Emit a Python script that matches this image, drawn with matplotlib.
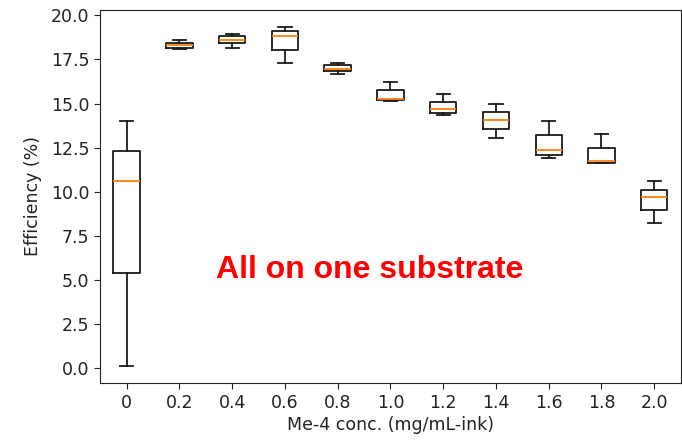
import matplotlib
matplotlib.use("Agg")
import matplotlib.pyplot as plt

# concentrations (tick labels) and box statistics
conc = ["0", "0.2", "0.4", "0.6", "0.8", "1.0", "1.2", "1.4", "1.6", "1.8", "2.0"]
whis_low = [0.11, 18.08, 18.17, 17.32, 16.70, 15.15, 14.33, 13.03, 11.88, 11.62, 8.23]
q1 = [5.36, 18.15, 18.45, 18.02, 16.83, 15.18, 14.49, 13.56, 12.10, 11.65, 8.95]
median = [10.59, 18.30, 18.62, 18.81, 16.98, 15.28, 14.67, 14.09, 12.35, 11.75, 9.67]
q3 = [12.31, 18.43, 18.83, 19.09, 17.17, 15.79, 15.09, 14.52, 13.20, 12.50, 10.12]
whis_high = [14.01, 18.58, 18.92, 19.34, 17.30, 16.22, 15.52, 15.00, 14.01, 13.26, 10.59]

stats = []
for i in range(len(conc)):
    stats.append({
        "label": conc[i],
        "whislo": whis_low[i],
        "q1": q1[i],
        "med": median[i],
        "q3": q3[i],
        "whishi": whis_high[i],
        "fliers": [],
    })

plt.rcParams["font.size"] = 12.5
plt.rcParams["text.color"] = "#222222"
plt.rcParams["axes.labelcolor"] = "#222222"
plt.rcParams["xtick.color"] = "#222222"
plt.rcParams["ytick.color"] = "#222222"
plt.rcParams["axes.edgecolor"] = "#222222"
plt.rcParams["xtick.major.size"] = 4.5
plt.rcParams["ytick.major.size"] = 4.5

fig = plt.figure(figsize=(6.82, 4.40), dpi=100)
ax = fig.add_axes([0.147, 0.13, 0.851, 0.847])
line = dict(linewidth=1.3, color="#1a1a1a")
ax.bxp(stats, showfliers=False,
       boxprops=line, whiskerprops=line, capprops=line,
       medianprops=dict(color="#ff7f0e", linewidth=1.3))

ax.set_yticks([0, 2.5, 5, 7.5, 10, 12.5, 15, 17.5, 20])
ax.set_xlabel("Me-4 conc. (mg/mL-ink)", labelpad=3)
ax.set_ylabel("Efficiency (%)", labelpad=6)
ax.text(0.465, 0.303, "All on one substrate", transform=ax.transAxes,
        ha="center", va="center", color="red", fontsize=23, fontweight="bold",
        family="Liberation Sans")

fig.savefig("out.png", dpi=100)
plt.close(fig)
